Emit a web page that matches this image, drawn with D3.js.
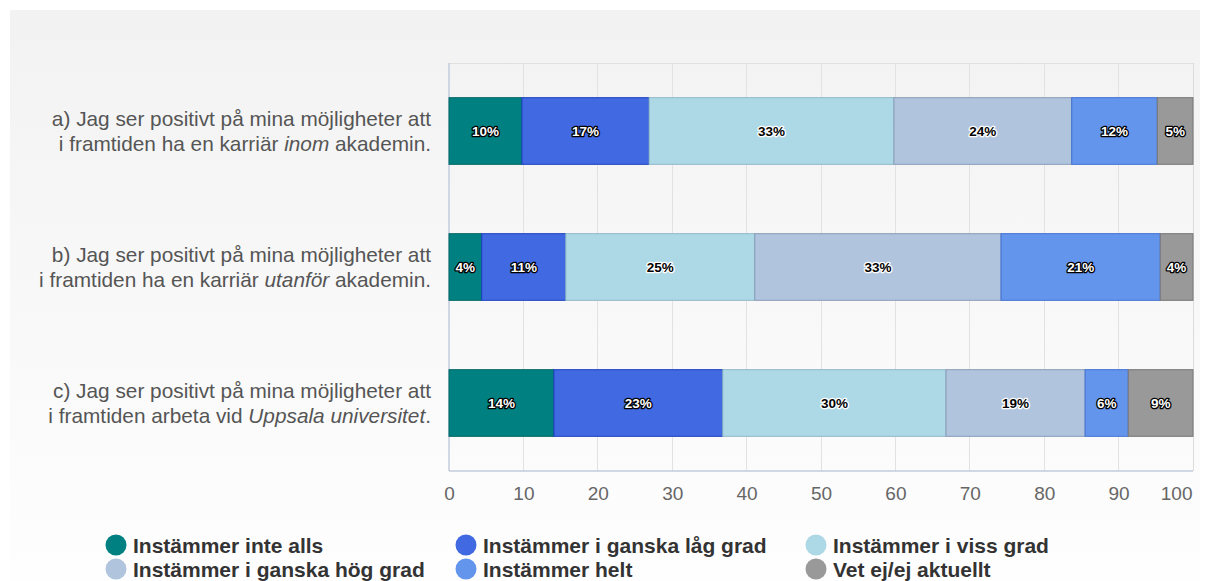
<!DOCTYPE html>
<html><head><meta charset="utf-8">
<script src="https://cdn.jsdelivr.net/npm/d3@7"></script>
<style>body{margin:0;background:#fff;}svg{display:block;}</style>
</head><body>
<svg id="c" width="1209" height="581"></svg>
<script>
const categories = ["a", "b", "c"];
const labelFirst = [
  [["a) Jag ser positivt på mina möjligheter att", false]],
  [["b) Jag ser positivt på mina möjligheter att", false]],
  [["c) Jag ser positivt på mina möjligheter att", false]]
];
const labelSecond = [
  [["i framtiden ha en karriär ", false], ["inom", true], [" akademin.", false]],
  [["i framtiden ha en karriär ", false], ["utanför", true], [" akademin.", false]],
  [["i framtiden arbeta vid ", false], ["Uppsala universitet", true], [".", false]]
];
const seriesNames = ["Instämmer inte alls", "Instämmer i ganska låg grad", "Instämmer i viss grad",
  "Instämmer i ganska hög grad", "Instämmer helt", "Vet ej/ej aktuellt"];
const seriesColors = ["#008080", "#4169e1", "#add8e6", "#b0c4de", "#6495ed", "#999999"];
const seriesStroke = ["#006666", "#1a3fbf", "#8fb8c8", "#8a9cb8", "#3f6fd0", "#777777"];
const darkLabel = [true, true, false, false, true, true];
// values per category, per series (percent)
const values = [
  [9.8, 17.1, 32.9, 23.9, 11.5, 4.8],
  [4.4, 11.3, 25.4, 33.1, 21.4, 4.4],
  [14.1, 22.7, 30.0, 18.7, 5.8, 8.7]
];
const xTicks = [0, 10, 20, 30, 40, 50, 60, 70, 80, 90, 100];

const svg = d3.select("#c");
const defs = svg.append("defs");
const grad = defs.append("linearGradient").attr("id", "bg").attr("x1", 0).attr("y1", 0).attr("x2", 0).attr("y2", 1);
grad.append("stop").attr("offset", "0%").attr("stop-color", "#f2f2f2");
grad.append("stop").attr("offset", "100%").attr("stop-color", "#fefefe");
svg.append("rect").attr("x", 10).attr("y", 10).attr("width", 1190).attr("height", 571).attr("fill", "url(#bg)");

const pL = 449, pR = 1193, pT = 63, pB = 471;
const x = d3.scaleLinear().domain([0, 100]).range([pL, pR]);
const y = d3.scaleBand().domain(categories).range([pT, pB]).paddingInner(0.51).paddingOuter(0.255);

// grid
svg.append("g").selectAll("line").data(xTicks.slice(1, -1)).join("line")
  .attr("x1", d => x(d)).attr("x2", d => x(d)).attr("y1", pT).attr("y2", pB)
  .attr("stroke", "#e2e2e2").attr("stroke-width", 1).attr("shape-rendering", "crispEdges");
svg.append("line").attr("x1", pL).attr("x2", pR).attr("y1", pT).attr("y2", pT).attr("stroke", "#e0e0e0").attr("shape-rendering", "crispEdges");
svg.append("line").attr("x1", pR).attr("x2", pR).attr("y1", pT).attr("y2", pB).attr("stroke", "#dcdcdc").attr("shape-rendering", "crispEdges");
svg.append("line").attr("x1", pL).attr("x2", pR).attr("y1", pB).attr("y2", pB).attr("stroke", "#c3cbdc").attr("stroke-width", 1.5);
svg.append("line").attr("x1", pL).attr("x2", pL).attr("y1", pT).attr("y2", pB).attr("stroke", "#c3cbdc").attr("stroke-width", 1.5);

// bars
categories.forEach((cat, ci) => {
  let acc = 0;
  const g = svg.append("g");
  values[ci].forEach((v, si) => {
    const x0 = x(acc), x1 = x(acc + v);
    acc += v;
    g.append("rect").attr("x", x0).attr("y", y(cat)).attr("width", x1 - x0).attr("height", y.bandwidth())
      .attr("fill", seriesColors[si]).attr("stroke", seriesStroke[si]).attr("stroke-width", 1);
    g.append("text").attr("x", (x0 + x1) / 2).attr("y", y(cat) + y.bandwidth() / 2)
      .attr("text-anchor", "middle").attr("dominant-baseline", "central")
      .attr("font-family", "Liberation Sans, Arial, sans-serif").attr("font-weight", "bold").attr("font-size", 13.5)
      .attr("paint-order", "stroke").attr("stroke-width", 2.6).attr("stroke-linejoin", "round")
      .attr("fill", darkLabel[si] ? "#ffffff" : "#000000")
      .attr("stroke", darkLabel[si] ? "#000000" : "#ffffff")
      .text(Math.round(v) + "%");
  });
});

// category labels
categories.forEach((cat, ci) => {
  const cy = y(cat) + y.bandwidth() / 2;
  [labelFirst[ci], labelSecond[ci]].forEach((parts, li) => {
    const t = svg.append("text").attr("x", 431).attr("y", cy - 5 + li * 25)
      .attr("text-anchor", "end").attr("font-family", "Liberation Sans, Arial, sans-serif")
      .attr("font-size", 20.8).attr("fill", "#555555");
    parts.forEach(([s, it]) => t.append("tspan").attr("font-style", it ? "italic" : "normal").text(s));
  });
});

// x axis
const ax = svg.append("g").attr("transform", `translate(0,${pB + 10})`)
  .call(d3.axisBottom(x).tickValues(xTicks).tickSize(0).tickPadding(6));
ax.select(".domain").remove();
ax.selectAll("text").attr("font-family", "Liberation Sans, Arial, sans-serif").attr("font-size", 19).attr("fill", "#666666");
ax.selectAll(".tick").filter(d => d === 100).select("text").attr("text-anchor", "end").attr("dx", -1);

// legend
const legX = [116, 466, 816], legY = [545, 569];
seriesNames.forEach((n, i) => {
  const cx = legX[i % 3], cy = legY[Math.floor(i / 3)];
  svg.append("circle").attr("cx", cx).attr("cy", cy).attr("r", 10.5).attr("fill", seriesColors[i]);
  svg.append("text").attr("x", cx + 17).attr("y", cy).attr("dominant-baseline", "central")
    .attr("font-family", "Liberation Sans, Arial, sans-serif").attr("font-weight", "bold")
    .attr("font-size", 21).attr("fill", "#333333").text(n);
});
</script>
</body></html>
